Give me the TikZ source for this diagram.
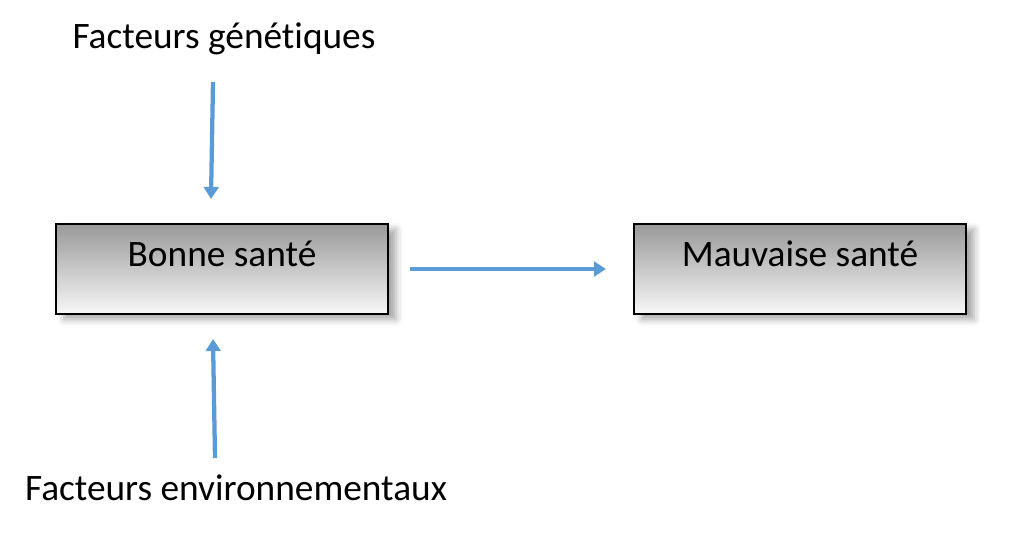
\documentclass[tikz,border=0pt]{standalone}
\usepackage{fontspec}
\setmainfont{Carlito}[Ligatures={NoCommon}]
\usetikzlibrary{arrows.meta,shadows.blur}
\definecolor{arrowblue}{HTML}{5B9BD5}
\tikzset{
  box/.style={draw=black, line width=1.8pt, top color=black!40, bottom color=black!3,
    minimum width=249pt, inner xsep=0pt, inner ysep=0pt, text height=32.25pt, text depth=35.25pt,
    font=\fontsize{28pt}{32pt}\selectfont,
    blur shadow={shadow xshift=6pt, shadow yshift=-4pt, shadow opacity=35, shadow blur radius=5pt}},
  lbl/.style={font=\fontsize{28pt}{32pt}\selectfont, inner sep=0pt, anchor=base},
  conn/.style={draw=arrowblue, line width=3.2pt, -{Triangle[length=9pt, width=11pt]}}
}
\begin{document}
\begin{tikzpicture}[x=0.75pt, y=-0.75pt]
\useasboundingbox (0,0) rectangle (1014,549);
\node[box] (bonne) at (222,269) {Bonne santé};
\node[box] (mauvaise) at (800,269) {Mauvaise santé};
\node[lbl] (gen) at (224,49) {Facteurs génétiques};
\node[lbl] (env) at (236,500) {Facteurs environnementaux};
\coordinate (g1) at (213,82);
\coordinate (g2) at (211,199);
\coordinate (e1) at (215,458);
\coordinate (e2) at (213,339);
\coordinate (h1) at (410,269);
\coordinate (h2) at (606,269);
\draw[conn] (g1) -- (g2);
\draw[conn] (e1) -- (e2);
\draw[conn] (h1) -- (h2);
\end{tikzpicture}
\end{document}
